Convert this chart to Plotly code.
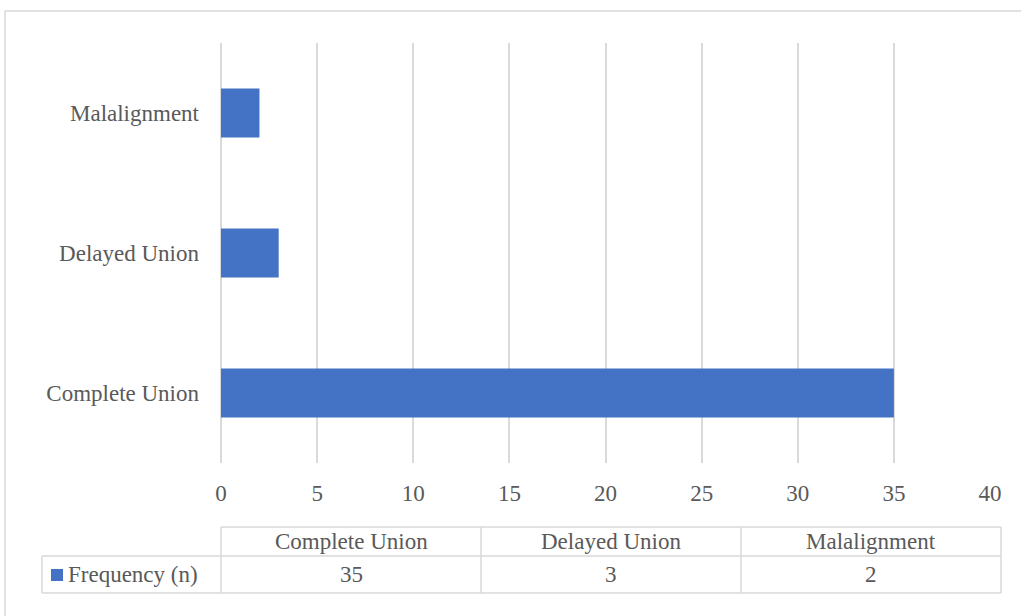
import plotly.graph_objects as go

categories = ["Complete Union", "Delayed Union", "Malalignment"]
frequency = [35, 3, 2]
series_name = "Frequency (n)"
x_ticks = [0, 5, 10, 15, 20, 25, 30, 35, 40]

W, H = 1021, 616
L, R, T, B = 221, 31, 43, 153
PW, PH = W - L - R, H - T - B
FONT = "Liberation Serif, Times New Roman, serif"
FS = 23
TXT = "#595959"
GRID = "#d9d9d9"
BAR = "#4472C4"


def px(x):
    return (x - L) / PW


def py(y):
    return (H - B - y) / PH


fig = go.Figure()
fig.add_trace(go.Bar(
    x=frequency, y=categories, orientation="h",
    marker=dict(color=BAR, line=dict(width=0)), width=0.35, name=series_name,
    showlegend=False, hoverinfo="skip",
))

fig.update_layout(
    width=W, height=H,
    margin=dict(l=L, r=R, t=T, b=B, pad=0),
    paper_bgcolor="white", plot_bgcolor="white",
    font=dict(family=FONT, color=TXT, size=FS),
    xaxis=dict(range=[0, 40], tickvals=x_ticks, showgrid=True, gridcolor=GRID,
               gridwidth=1.5, zeroline=True, zerolinecolor=GRID, zerolinewidth=1.5,
               showline=False, ticks="",
               ticklabelstandoff=14, tickfont=dict(size=FS, color=TXT, family=FONT)),
    yaxis=dict(categoryorder="array", categoryarray=categories, showgrid=False,
               zeroline=False, showline=False, ticks="", ticklabelstandoff=21,
               tickfont=dict(size=FS, color=TXT, family=FONT)),
)

shapes = []
line = dict(color=GRID, width=1.5)
# outer chart border
shapes.append(dict(type="rect", xref="paper", yref="paper",
                   x0=px(5), x1=px(1030), y0=py(11), y1=py(630), line=line,
                   fillcolor="rgba(0,0,0,0)", layer="below"))

# data table
col_edges = [221 + 260 * i for i in range(len(categories) + 1)]
head_top, head_bot, data_bot = 527, 556, 593
label_left = 42
shapes.append(dict(type="line", xref="paper", yref="paper", x0=px(col_edges[0]), x1=px(col_edges[-1]),
                   y0=py(head_top), y1=py(head_top), line=line))
for yy in (head_bot, data_bot):
    shapes.append(dict(type="line", xref="paper", yref="paper", x0=px(label_left), x1=px(col_edges[-1]),
                       y0=py(yy), y1=py(yy), line=line))
for xe in col_edges:
    shapes.append(dict(type="line", xref="paper", yref="paper", x0=px(xe), x1=px(xe),
                       y0=py(head_top), y1=py(data_bot), line=line))
shapes.append(dict(type="line", xref="paper", yref="paper", x0=px(label_left), x1=px(label_left),
                   y0=py(head_bot), y1=py(data_bot), line=line))
# legend key
shapes.append(dict(type="rect", xref="paper", yref="paper", x0=px(51), x1=px(63),
                   y0=py(569), y1=py(581), fillcolor=BAR, line=dict(width=0)))
fig.update_layout(shapes=shapes)

ann = []
for i, (c, v) in enumerate(zip(categories, frequency)):
    xc = (col_edges[i] + col_edges[i + 1]) / 2
    ann.append(dict(text=c, x=px(xc), y=py((head_top + head_bot) / 2), xref="paper", yref="paper",
                    showarrow=False, xanchor="center", yanchor="middle",
                    font=dict(size=FS, color=TXT, family=FONT)))
    ann.append(dict(text=str(v), x=px(xc), y=py((head_bot + data_bot) / 2), xref="paper", yref="paper",
                    showarrow=False, xanchor="center", yanchor="middle",
                    font=dict(size=FS, color=TXT, family=FONT)))
ann.append(dict(text=series_name, x=px(66), y=py((head_bot + data_bot) / 2), xref="paper", yref="paper",
                showarrow=False, xanchor="left", yanchor="middle",
                font=dict(size=FS, color=TXT, family=FONT)))
fig.update_layout(annotations=ann)

fig.write_html("out.html", config={"displayModeBar": False})

# remove the default page margin so the figure sits at the window origin
with open("out.html", "r", encoding="utf-8") as f:
    html = f.read()
html = html.replace("<body>", '<body style="margin:0;padding:0;">', 1)
with open("out.html", "w", encoding="utf-8") as f:
    f.write(html)
